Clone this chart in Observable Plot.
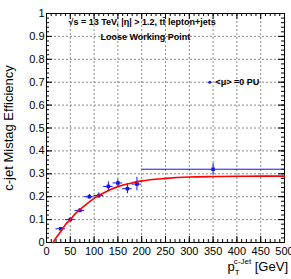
<!DOCTYPE html>
<html><head><meta charset="utf-8">
<script src="https://cdn.jsdelivr.net/npm/d3@7"></script>
<script src="https://cdn.jsdelivr.net/npm/@observablehq/plot@0.6"></script>
<style>
html,body{margin:0;padding:0;background:#fff;}
svg{display:block;}
</style>
</head><body>
<div id="chart"></div>
<script>
// Data points (c-jet mistag efficiency vs pT)
const ptX    = [30, 50, 70, 90, 110, 130, 150, 170, 190, 350];
const ptXLo  = [20, 40, 60, 80, 100, 120, 140, 160, 180, 200];
const ptXHi  = [40, 60, 80, 100, 120, 140, 160, 180, 200, 500];
const ptY    = [0.06, 0.10, 0.14, 0.20, 0.205, 0.245, 0.26, 0.235, 0.255, 0.32];
const ptYErr = [0.006, 0.008, 0.008, 0.01, 0.012, 0.02, 0.015, 0.022, 0.03, 0.025];

// Fit curve
const fitX = [14, 20, 30, 40, 50, 60, 75, 100, 125, 150, 175, 200, 250, 300, 350, 400, 450, 500];
const fitY = [0, 0.02, 0.048, 0.079, 0.1, 0.125, 0.152, 0.193, 0.222, 0.244, 0.258, 0.269, 0.28, 0.286, 0.288, 0.289, 0.29, 0.29];

// Ticks
const xMajor = [0, 50, 100, 150, 200, 250, 300, 350, 400, 450, 500];
const yMajor = [0, 0.1, 0.2, 0.3, 0.4, 0.5, 0.6, 0.7, 0.8, 0.9, 1];
const xMinor = d3.range(0, 501, 10);
const yMinor = d3.range(0, 51).map(i => i / 50);
const xGrid = xMajor.slice(1, -1);
const yGrid = yMajor.slice(1, -1);

const headerText = "\u221As = 13 TeV, |\u03B7| > 1.2, tt\u0304 lepton+jets";
const wpText = "Loose Working Point";
const legendText = "<\u03BC> =0 PU";
const legendY = [0.7];

const points = ptX.map((x, i) => ({x, lo: ptXLo[i], hi: ptXHi[i], y: ptY[i], e: ptYErr[i]}));
const fit = fitX.map((x, i) => ({x, y: fitY[i]}));

const blue = "#1515e8";
const xt = 500 / 237; // GeV per px
const yt = 1 / 229;   // units per px

const plot = Plot.plot({
  width: 291, height: 279,
  marginLeft: 46, marginRight: 7, marginTop: 13, marginBottom: 37,
  style: {fontFamily: "'Liberation Sans', Arial, sans-serif", background: "#fff", color: "#000"},
  x: {domain: [0, 500]},
  y: {domain: [0, 1]},
  marks: [
    Plot.ruleX(xGrid, {stroke: "#8a8a8a", strokeDasharray: "2,2", strokeWidth: 1}),
    Plot.ruleY(yGrid, {stroke: "#8a8a8a", strokeDasharray: "2,2", strokeWidth: 1}),
    // inward ticks
    Plot.ruleX(xMinor, {y1: 0, y2: 3 * yt, stroke: "#000"}),
    Plot.ruleX(xMinor, {y1: 1, y2: 1 - 3 * yt, stroke: "#000"}),
    Plot.ruleX(xMajor, {y1: 0, y2: 6 * yt, stroke: "#000"}),
    Plot.ruleX(xMajor, {y1: 1, y2: 1 - 6 * yt, stroke: "#000"}),
    Plot.ruleY(yMinor, {x1: 0, x2: 3 * xt, stroke: "#000"}),
    Plot.ruleY(yMinor, {x1: 500, x2: 500 - 3 * xt, stroke: "#000"}),
    Plot.ruleY(yMajor, {x1: 0, x2: 6 * xt, stroke: "#000"}),
    Plot.ruleY(yMajor, {x1: 500, x2: 500 - 6 * xt, stroke: "#000"}),
    Plot.frame({stroke: "#000"}),
    Plot.axisX(xMajor, {tickSize: 0, tickPadding: 5, fontSize: 11, label: null, tickFormat: d => String(d)}),
    Plot.axisY(yMajor, {tickSize: 0, tickPadding: 2, fontSize: 11, label: null,
      tickFormat: d => d === 0 ? "0" : d === 1 ? "1" : d.toFixed(1)}),
    // error bars
    Plot.ruleY(points, {y: "y", x1: "lo", x2: "hi", stroke: blue, strokeWidth: 1}),
    Plot.ruleX(points, {x: "x", y1: d => d.y - d.e, y2: d => d.y + d.e, stroke: blue, strokeWidth: 1}),
    Plot.dot(points, {x: "x", y: "y", symbol: "square", r: 2, fill: blue, stroke: "none"}),
    // fit
    Plot.line(fit, {x: "x", y: "y", stroke: "#ff0000", strokeWidth: 1.6, curve: "monotone-x"}),
    // texts
    Plot.text([headerText], {frameAnchor: "top-left", dx: 22, dy: 5, fontSize: 9, fontWeight: "bold", textAnchor: "start"}),
    Plot.text([wpText], {frameAnchor: "top-left", dx: 54, dy: 20, fontSize: 9, fontWeight: "bold", textAnchor: "start"}),
    Plot.dot(legendY, {x: () => 343, y: d => d, r: 1.5, fill: blue, stroke: "none"}),
    Plot.text(legendY, {x: () => 355, y: d => d, text: () => legendText, fontSize: 9, fontWeight: "bold", textAnchor: "start"})
  ]
});

document.getElementById("chart").appendChild(plot);

const svg = d3.select(plot);
// y-axis title
svg.append("text")
  .attr("transform", "translate(13,128) rotate(-90)")
  .attr("text-anchor", "middle")
  .attr("font-size", 13)
  .attr("fill", "#000")
  .text("c-jet Mistag Efficiency");
// x-axis title with sub/superscript
const xt2 = svg.append("text")
  .attr("x", 288).attr("y", 271)
  .attr("text-anchor", "end")
  .attr("font-size", 13)
  .attr("fill", "#000");
xt2.append("tspan").text("p");
xt2.append("tspan").attr("font-size", 8).attr("dy", 4).text("T");
xt2.append("tspan").attr("font-size", 8).attr("dx", -5).attr("dy", -11).text("c-Jet");
xt2.append("tspan").attr("dy", 7).text(" [GeV]");
</script>
</body></html>
